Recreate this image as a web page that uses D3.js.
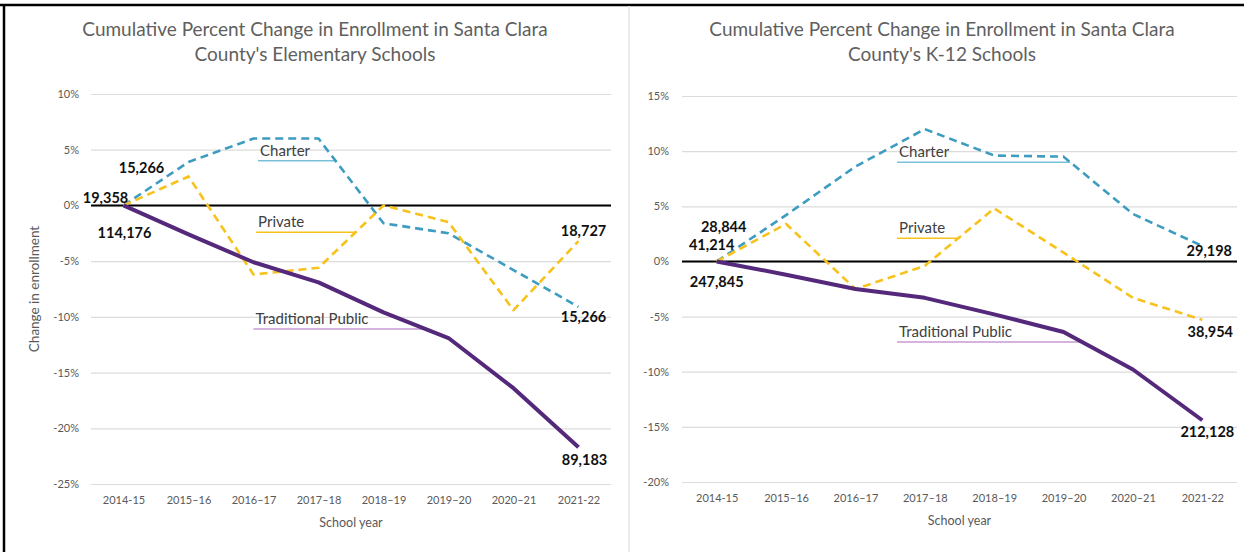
<!DOCTYPE html>
<html>
<head>
<meta charset="utf-8">
<script src="https://cdn.jsdelivr.net/npm/d3@7"></script>
<style>
  body { margin: 0; background: #fff; }
  svg { display: block; }
</style>
</head>
<body>
<div id="chart"></div>
<script>
// School years on the x axis
var years = ['2014-15', '2015–16', '2016–17', '2017–18', '2018–19', '2019–20', '2020–21', '2021-22'];

// Elementary schools, cumulative % change
var elemCharter = [0, 3.9, 6.0, 6.0, -1.6, -2.5, -5.8, -9.1];
var elemPrivate = [0, 2.6, -6.2, -5.6, 0.0, -1.5, -9.4, -3.2];
var elemPublic = [0, -2.6, -5.1, -6.9, -9.6, -11.9, -16.4, -21.7];
var elemStartLabels = ['15,266', '19,358', '114,176'];
var elemEndLabels = ['15,266', '18,727', '89,183'];
var elemTicks = [10, 5, 0, -5, -10, -15, -20, -25];

// K-12 schools, cumulative % change
var k12Charter = [0, 4.2, 8.6, 12.0, 9.6, 9.5, 4.3, 1.4];
var k12Private = [0, 3.4, -2.5, -0.4, 4.8, 0.8, -3.3, -5.3];
var k12Public = [0, -1.2, -2.5, -3.3, -4.8, -6.4, -9.8, -14.4];
var k12StartLabels = ['28,844', '41,214', '247,845'];
var k12EndLabels = ['29,198', '38,954', '212,128'];
var k12Ticks = [15, 10, 5, 0, -5, -10, -15, -20];

var seriesNames = ['Charter', 'Private', 'Traditional Public'];

var W = 1244, H = 552;
var font = 'Lato, "Open Sans", sans-serif';
var gray = '#595959';

var styles = [
    { color: '#3d9cbf', dash: '8,5', width: 2.6, lead: '#78bfd8' },
    { color: '#f7c21b', dash: '8,5', width: 2.6, lead: '#f7c21b' },
    { color: '#54287a', dash: null, width: 4, lead: '#c99ad0' }
];

var svg = d3.select('#chart')
    .append('svg')
    .attr('width', W)
    .attr('height', H);

// frame
svg.append('rect').attr('width', W).attr('height', H).attr('fill', '#fff');
svg.append('line').attr('x1', 0).attr('x2', W).attr('y1', 5).attr('y2', 5)
    .attr('stroke', '#000').attr('stroke-width', 2.5);
svg.append('line').attr('x1', 4).attr('x2', 4).attr('y1', 4).attr('y2', H)
    .attr('stroke', '#000').attr('stroke-width', 2.5);
svg.append('line').attr('x1', 629).attr('x2', 629).attr('y1', 6).attr('y2', H)
    .attr('stroke', '#ececec').attr('stroke-width', 2);

function drawPanel(p) {
    var g = svg.append('g');

    var xScale = d3.scalePoint()
        .domain(years)
        .range([p.left, p.right])
        .padding(0.5);
    var step = xScale.step();
    var xAt = function(i) { return xScale(years[0]) + i * step; };

    var yScale = d3.scaleLinear()
        .domain([d3.min(p.ticks), d3.max(p.ticks)])
        .range([p.bottom, p.top]);

    // title
    g.append('text')
        .attr('x', p.cx)
        .attr('font-family', font)
        .attr('font-size', 19)
        .attr('fill', '#5f5f5f')
        .attr('text-anchor', 'middle')
        .selectAll('tspan')
        .data(p.title)
        .enter().append('tspan')
        .attr('x', p.cx)
        .attr('y', function(d, i) { return 36 + i * 25; })
        .text(function(d) { return d; });

    // grid + y labels
    var yAxis = g.append('g')
        .attr('transform', 'translate(' + p.left + ',0)')
        .call(d3.axisLeft(yScale)
            .tickValues(p.ticks)
            .tickSize(-(p.right - p.left))
            .tickPadding(p.tickPad)
            .tickFormat(function(d) { return d + '%'; }));
    yAxis.select('.domain').remove();
    yAxis.selectAll('line').attr('stroke', '#dcdcdc').attr('stroke-width', 1.2);
    yAxis.selectAll('text')
        .attr('font-family', font)
        .attr('font-size', 11)
        .attr('fill', gray);

    // zero line
    g.append('line')
        .attr('x1', p.left).attr('x2', p.right)
        .attr('y1', yScale(0)).attr('y2', yScale(0))
        .attr('stroke', '#000').attr('stroke-width', 2);

    // x labels
    var xAxis = g.append('g')
        .attr('transform', 'translate(0,' + p.bottom + ')')
        .call(d3.axisBottom(xScale).tickSize(0).tickPadding(12));
    xAxis.select('.domain').remove();
    xAxis.selectAll('text')
        .attr('font-family', font)
        .attr('font-size', 11)
        .attr('fill', gray);

    g.append('text')
        .attr('x', (p.left + p.right) / 2)
        .attr('y', p.bottom + 43)
        .attr('text-anchor', 'middle')
        .attr('font-family', font)
        .attr('font-size', 12.5)
        .attr('fill', gray)
        .text('School year');

    if (p.yTitle) {
        g.append('text')
            .attr('transform', 'translate(' + 39 + ',' + ((p.top + p.bottom) / 2) + ') rotate(-90)')
            .attr('text-anchor', 'middle')
            .attr('font-family', font)
            .attr('font-size', 13.5)
            .attr('fill', gray)
            .text(p.yTitle);
    }

    // leader lines + series names
    p.series.forEach(function(vals, s) {
        var leg = p.legend[s];
        var v = leg.value;
        var x2 = p.right;
        for (var i = Math.ceil(leg.at); i < vals.length - 1; i++) {
            var a = vals[i], b = vals[i + 1];
            if ((a - v) * (b - v) <= 0 && a !== b) {
                x2 = xAt(i + (v - a) / (b - a));
                break;
            }
        }
        var yy = yScale(v);
        g.append('line')
            .attr('x1', xAt(leg.at)).attr('x2', x2)
            .attr('y1', yy).attr('y2', yy)
            .attr('stroke', styles[s].lead)
            .attr('stroke-width', 1.5);
        g.append('text')
            .attr('x', xAt(leg.at) + 2)
            .attr('y', yy - 5)
            .attr('font-family', font)
            .attr('font-size', 15)
            .attr('fill', '#404040')
            .text(seriesNames[s]);
    });

    // lines
    var line = d3.line()
        .x(function(d, i) { return xScale(years[i]); })
        .y(function(d) { return yScale(d); });

    p.series.forEach(function(vals, s) {
        g.append('path')
            .datum(vals)
            .attr('d', line)
            .attr('fill', 'none')
            .attr('stroke', styles[s].color)
            .attr('stroke-width', styles[s].width)
            .attr('stroke-dasharray', styles[s].dash)
            .attr('stroke-linejoin', 'round');
    });

    // value labels at start and end
    p.series.forEach(function(vals, s) {
        var last = vals.length - 1;
        [[0, p.startLabels[s], p.startOff[s]], [last, p.endLabels[s], p.endOff[s]]].forEach(function(l) {
            g.append('text')
                .attr('x', xScale(years[l[0]]) + l[2][0])
                .attr('y', yScale(vals[l[0]]) + l[2][1])
                .attr('dy', '0.35em')
                .attr('text-anchor', 'middle')
                .attr('font-family', font)
                .attr('font-weight', 'bold')
                .attr('font-size', 14.5)
                .attr('fill', '#111')
                .text(l[1]);
        });
    });
}

drawPanel({
    left: 91, right: 611, top: 94, bottom: 484, cx: 315, tickPad: 12,
    title: ['Cumulative Percent Change in Enrollment in Santa Clara', "County's Elementary Schools"],
    yTitle: 'Change in enrollment',
    ticks: elemTicks,
    series: [elemCharter, elemPrivate, elemPublic],
    startLabels: elemStartLabels,
    endLabels: elemEndLabels,
    startOff: [[18, -38], [-18, -8], [1, 27]],
    endOff: [[5, 10], [5, -10], [6, 13]],
    legend: [{ at: 2.07, value: 4.0 }, { at: 2.04, value: -2.4 }, { at: 2.0, value: -11.1 }]
});

drawPanel({
    left: 682, right: 1237, top: 96, bottom: 482, cx: 942, tickPad: 13,
    title: ['Cumulative Percent Change in Enrollment in Santa Clara', "County's K-12 Schools"],
    yTitle: null,
    ticks: k12Ticks,
    series: [k12Charter, k12Private, k12Public],
    startLabels: k12StartLabels,
    endLabels: k12EndLabels,
    startOff: [[7, -35], [-5, -17], [0, 20]],
    endOff: [[7, 5], [8, 12], [5, 12]],
    legend: [{ at: 2.6, value: 9.0 }, { at: 2.6, value: 2.1 }, { at: 2.6, value: -7.3 }]
});
</script>
</body>
</html>
